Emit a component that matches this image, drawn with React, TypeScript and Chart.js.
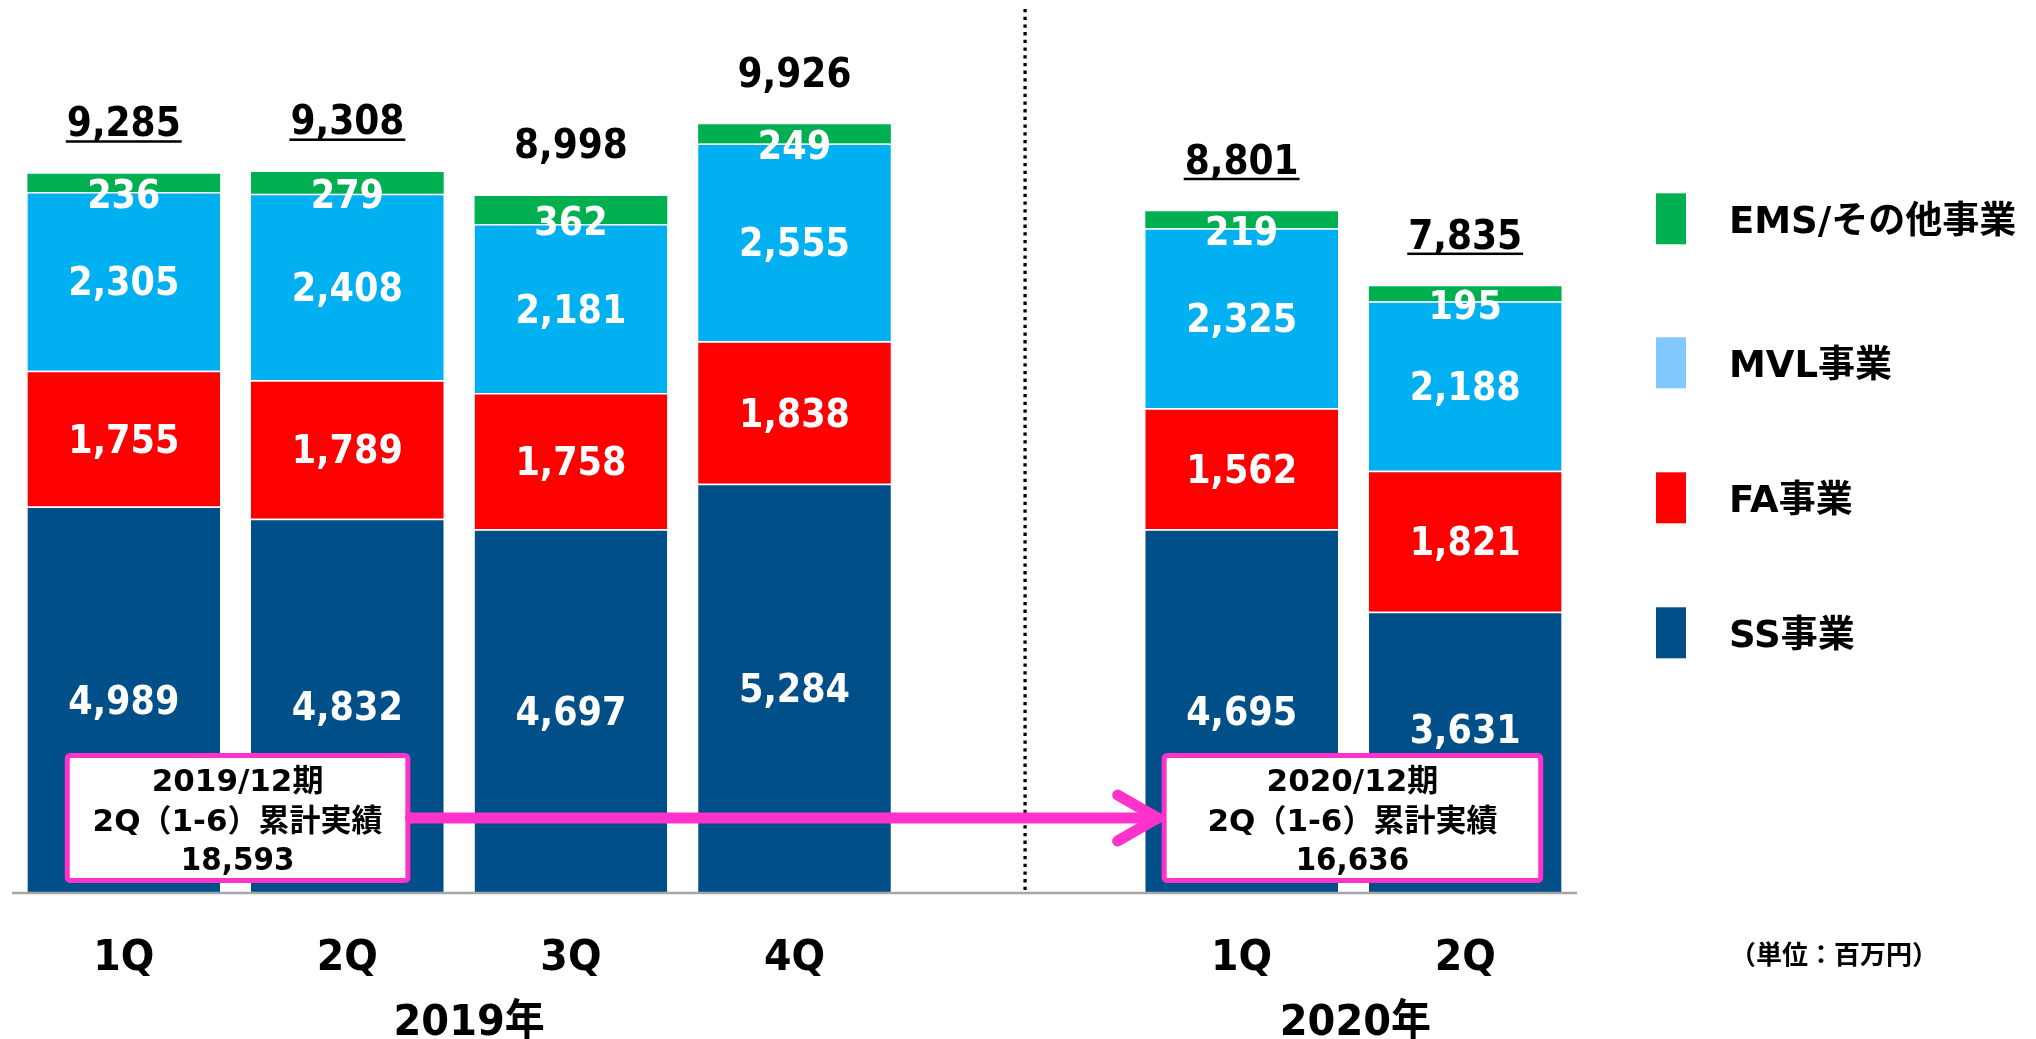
import React, { useEffect, useRef } from "react";
import { Chart, registerables } from "chart.js";

Chart.register(...registerables);

// ---------- data ----------
const categories = ["1Q", "2Q", "3Q", "4Q", "", "1Q", "2Q"];
const yearGroups = ["2019年", "2020年"];
const yearSpans = [[0, 3], [5, 6]];
const seriesNames = ["SS事業", "FA事業", "MVL事業", "EMS/その他事業"];
const ssValues = [4989, 4832, 4697, 5284, null, 4695, 3631];
const faValues = [1755, 1789, 1758, 1838, null, 1562, 1821];
const mvlValues = [2305, 2408, 2181, 2555, null, 2325, 2188];
const emsValues = [236, 279, 362, 249, null, 219, 195];
const underlinedTotals = [true, true, false, false, false, true, true];
const boxTitles = ["2019/12期", "2020/12期"];
const boxSubtitle = "2Q（1-6）累計実績";
const boxValues = [18593, 16636];
const boxSpans = [[0, 1], [5, 6]];
const unitLabel = "（単位：百万円）";

// ---------- style ----------
const barColors = ["#004F88", "#FF0000", "#00B0F0", "#00B050"];
const legendColors = ["#004F88", "#FF0000", "#80C8FF", "#00B050"];
const MAGENTA = "#FF33CC";
const FONT = '"DejaVu Sans", "Noto Sans CJK JP", sans-serif';

const fmt = (v: number) => v.toLocaleString("en-US");

function txt(
  ctx: CanvasRenderingContext2D,
  s: string,
  x: number,
  y: number,
  size: number,
  sx: number,
  color: string,
  align: CanvasTextAlign = "center",
  baseline: CanvasTextBaseline = "alphabetic"
) {
  ctx.save();
  ctx.translate(x, y);
  ctx.scale(sx, 1);
  ctx.font = `bold ${size}px ${FONT}`;
  ctx.fillStyle = color;
  ctx.textAlign = align;
  ctx.textBaseline = baseline;
  ctx.fillText(s, 0, 0);
  const w = ctx.measureText(s).width * sx;
  ctx.restore();
  return w;
}

const decoPlugin = {
  id: "deco",
  afterDatasetsDraw(chart: any) {
    const ctx: CanvasRenderingContext2D = chart.ctx;
    const xs = chart.scales.x;
    const ys = chart.scales.y;
    const ca = chart.chartArea;
    const base = ys.getPixelForValue(0);

    // dotted divider in empty slot
    ctx.save();
    ctx.strokeStyle = "#000";
    ctx.lineWidth = 3.3;
    ctx.setLineDash([3.3, 4.4]);
    const dx = xs.getPixelForValue(4) + 7;
    ctx.beginPath();
    ctx.moveTo(dx, 9);
    ctx.lineTo(dx, base);
    ctx.stroke();
    ctx.restore();

    // segment labels
    chart.data.datasets.forEach((ds: any, di: number) => {
      const meta = chart.getDatasetMeta(di);
      meta.data.forEach((el: any, i: number) => {
        const v = ds.data[i];
        if (v == null) return;
        const p = el.getProps(["x", "y", "base"], true);
        let cy = (p.y + p.base) / 2 + (di === 3 ? 25 : 14);
        // keep the label clear of the summary box below
        const limit = base - 140 - 10;
        if (cy > limit) cy = limit;
        txt(ctx, fmt(v), p.x, cy, 39, 0.9, "#fff");
      });
    });

    // totals
    categories.forEach((_, i) => {
      if (ssValues[i] == null) return;
      const total =
        (ssValues[i] as number) + (faValues[i] as number) + (mvlValues[i] as number) + (emsValues[i] as number);
      const x = xs.getPixelForValue(i);
      const top = ys.getPixelForValue(total);
      const bl = top - 37.6;
      const w = txt(ctx, fmt(total), x, bl, 40, 0.9, "#000");
      if (underlinedTotals[i]) {
        ctx.fillStyle = "#000";
        ctx.fillRect(x - w / 2 - 1, bl + 4, w + 2, 2.5);
      }
    });

    // axis line
    ctx.save();
    ctx.strokeStyle = "#A6A6A6";
    ctx.lineWidth = 2.5;
    ctx.beginPath();
    ctx.moveTo(ca.left, base);
    ctx.lineTo(ca.right, base);
    ctx.stroke();
    ctx.restore();

    // category labels
    categories.forEach((c, i) => {
      if (!c) return;
      txt(ctx, c, xs.getPixelForValue(i), base + 77, 43, 0.92, "#000");
    });
    yearGroups.forEach((g, k) => {
      const [a, b] = yearSpans[k];
      const cx = (xs.getPixelForValue(a) + xs.getPixelForValue(b)) / 2 + (k === 0 ? 10 : 2);
      txt(ctx, g, cx, base + 142, 43, 0.93, "#000");
    });

    // unit label
    txt(ctx, unitLabel, 1730, base + 64, 26, 1, "#000", "left", "middle");

    // boxes geometry
    const boxes = boxSpans.map(([a, b], k) => {
      const x1 = xs.getPixelForValue(a) - (k === 0 ? 59 : 80);
      const x2 = xs.getPixelForValue(b) + (k === 0 ? 63 : 78);
      return { x1, x2, y1: base - 140, y2: base - 10 };
    });

    // arrow
    const ay = base - 75;
    ctx.save();
    ctx.strokeStyle = MAGENTA;
    ctx.fillStyle = MAGENTA;
    ctx.lineWidth = 11;
    ctx.lineCap = "round";
    ctx.lineJoin = "round";
    const ax1 = boxes[0].x2;
    const ax2 = boxes[1].x1 - 4;
    ctx.beginPath();
    ctx.moveTo(ax1, ay);
    ctx.lineTo(ax2, ay);
    ctx.stroke();
    ctx.beginPath();
    ctx.moveTo(ax2 - 40, ay - 23);
    ctx.lineTo(ax2, ay);
    ctx.lineTo(ax2 - 40, ay + 23);
    ctx.stroke();
    ctx.restore();

    // boxes
    boxes.forEach((bx, k) => {
      ctx.save();
      ctx.fillStyle = "#fff";
      ctx.strokeStyle = MAGENTA;
      ctx.lineWidth = 5;
      ctx.beginPath();
      (ctx as any).roundRect(bx.x1 + 2.5, bx.y1 + 2.5, bx.x2 - bx.x1 - 5, bx.y2 - bx.y1 - 5, 3);
      ctx.fill();
      ctx.stroke();
      ctx.restore();
      const cx = (bx.x1 + bx.x2) / 2;
      txt(ctx, boxTitles[k], cx, bx.y1 + 38.4, 31, 1, "#000");
      txt(ctx, boxSubtitle, cx, bx.y1 + 78.4, 31, 1, "#000");
      txt(ctx, fmt(boxValues[k]), cx, bx.y1 + 116.7, 32, 0.92, "#000");
    });
    // arrow start dot
    ctx.save();
    ctx.fillStyle = MAGENTA;
    ctx.beginPath();
    ctx.arc(boxes[0].x2, ay, 5.5, 0, Math.PI * 2);
    ctx.fill();
    ctx.restore();

    // legend (top to bottom: EMS, MVL, FA, SS)
    const legendY = [218.8, 362.8, 497.8, 632.8];
    [3, 2, 1, 0].forEach((si, r) => {
      const cy = legendY[r];
      ctx.fillStyle = legendColors[si];
      ctx.fillRect(1656, cy - 25.5, 30, 51);
      txt(ctx, seriesNames[si], 1729, cy + 14, 37, 1, "#000", "left");
    });
  },
};

export default function App() {
  const ref = useRef<HTMLCanvasElement | null>(null);
  useEffect(() => {
    if (!ref.current) return;
    const seriesValues = [ssValues, faValues, mvlValues, emsValues];
    const chart = new Chart(ref.current, {
      type: "bar",
      data: {
        labels: categories,
        datasets: seriesValues.map((vals, k) => ({
          label: seriesNames[k],
          data: vals as any,
          backgroundColor: barColors[k],
          borderColor: "#ffffff",
          borderWidth: k === 3 ? 0 : { top: 1.5, right: 0, bottom: 0, left: 0 },
          borderSkipped: false as any,
          barPercentage: 0.862,
          categoryPercentage: 1,
        })),
      },
      options: {
        animation: false,
        responsive: false,
        devicePixelRatio: 1,
        layout: { padding: { left: 12, right: 459, top: 41, bottom: 146 } },
        plugins: { legend: { display: false }, tooltip: { enabled: false } },
        scales: {
          x: { stacked: true, display: false, grid: { display: false } },
          y: { stacked: true, display: false, min: 0, max: 11000 },
        },
      },
      plugins: [decoPlugin],
    });
    return () => chart.destroy();
  }, []);
  return (
    <div style={{ position: "fixed", left: 0, top: 0, width: 2036, height: 1039, background: "#fff" }}>
      <canvas ref={ref} width={2036} height={1039} style={{ width: 2036, height: 1039, display: "block" }} />
    </div>
  );
}
